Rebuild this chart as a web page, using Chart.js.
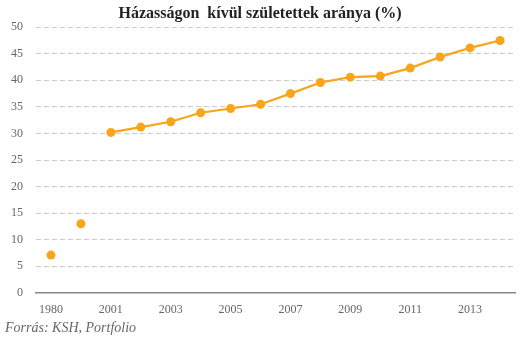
<!DOCTYPE html>
<html>
<head>
<meta charset="utf-8">
<script src="https://cdn.jsdelivr.net/npm/chart.js@4"></script>
<style>
  html, body { margin: 0; padding: 0; background: #fff; }
  #wrap { width: 529px; height: 341px; position: relative; }
</style>
</head>
<body>
<div id="wrap"><canvas id="births"></canvas></div>
<script>
// years on the x axis (1980 and 1990, then yearly from 2001)
const years = ["1980", "1990", "2001", "2002", "2003", "2004", "2005", "2006",
               "2007", "2008", "2009", "2010", "2011", "2012", "2013", "2014"];
// share of births outside marriage, %
const shares = [7.1, 13.0, 30.2, 31.2, 32.2, 33.9, 34.7, 35.5,
                37.5, 39.6, 40.6, 40.8, 42.3, 44.4, 46.1, 47.5];
const yTicks = [0, 5, 10, 15, 20, 25, 30, 35, 40, 45, 50];

const orange = "#F8A51C";
const serif = "'Liberation Serif', 'DejaVu Serif', serif";

new Chart(document.getElementById("births"), {
  type: "line",
  data: {
    labels: years,
    datasets: [{
      data: shares,
      borderColor: orange,
      backgroundColor: orange,
      borderWidth: 2.2,
      pointRadius: 4.5,
      pointBorderWidth: 0,
      tension: 0,
      // the early years are single points, the line only runs from 2001
      segment: {
        borderColor: ctx => ctx.p0DataIndex < 2 ? "rgba(0,0,0,0)" : orange
      }
    }]
  },
  options: {
    responsive: true,
    maintainAspectRatio: false,
    animation: false,
    layout: { padding: { top: 4, right: 14, bottom: 0, left: 5 } },
    plugins: {
      legend: { display: false },
      tooltip: { enabled: false },
      title: {
        display: true,
        text: "Házasságon  kívül születettek aránya (%)",
        color: "#222",
        font: { family: serif, size: 16, weight: "bold" },
        padding: { top: 0, bottom: 4 }
      },
      subtitle: {
        display: true,
        text: "Forrás: KSH, Portfolio",
        position: "bottom",
        align: "start",
        color: "#666",
        font: { family: serif, size: 14, style: "italic" },
        padding: { top: 0, bottom: 4 }
      }
    },
    scales: {
      x: {
        offset: true,
        grid: { display: false, drawTicks: false },
        border: { display: true, color: "#888", width: 1.5 },
        ticks: {
          autoSkip: false,
          maxRotation: 0,
          padding: 10,
          color: "#666",
          font: { family: serif, size: 12 },
          callback: function (value, index) {
            return index % 2 === 0 ? this.getLabelForValue(value) : "";
          }
        },
        afterFit: scale => { scale.height = 27.4; }
      },
      y: {
        min: 0,
        max: 50,
        afterBuildTicks: scale => {
          scale.ticks = yTicks.map(v => ({ value: v }));
        },
        grid: { color: "#cccccc", lineWidth: 1, drawTicks: false },
        border: { display: false, dash: [5, 3] },
        ticks: {
          padding: 13,
          color: "#666",
          font: { family: serif, size: 12 }
        },
        afterFit: scale => { scale.width = 31; }
      }
    }
  }
});
</script>
</body>
</html>
